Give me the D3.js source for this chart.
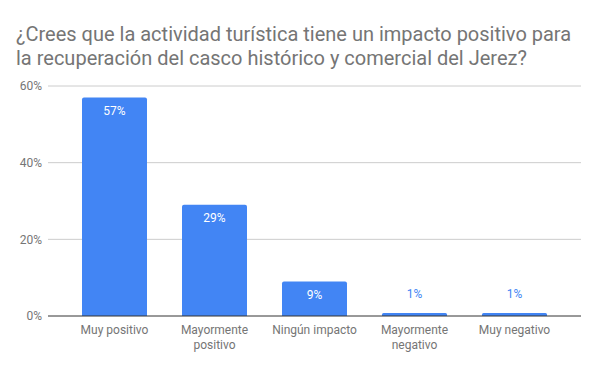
<!DOCTYPE html>
<html>
<head>
<meta charset="utf-8">
<script src="https://cdn.jsdelivr.net/npm/d3@7"></script>
<style>
  body { margin: 0; background: #fff; }
  svg { font-family: Roboto, sans-serif; }
</style>
</head>
<body>
<div id="graf"></div>
<script>
// datos
categorias = ['Muy positivo', 'Mayormente positivo', 'Ningún impacto', 'Mayormente negativo', 'Muy negativo']
valores = [57, 29, 9, 0.8, 0.8]
ticks = [0, 20, 40, 60]
titulo = ['¿Crees que la actividad turística tiene un impacto positivo para',
          'la recuperación del casco histórico y comercial del Jerez?']

ancho_total = 600
alto_total = 371
margins = { top: 86, left: 48, right: 19, bottom: 55 }
ancho = ancho_total - margins.left - margins.right
alto = alto_total - margins.top - margins.bottom

svg = d3.select('#graf').append('svg')
        .attr('width', ancho_total)
        .attr('height', alto_total)

svg.append('rect').attr('width', ancho_total).attr('height', alto_total).attr('fill', '#fff')

svg.selectAll('.titulo')
   .data(titulo)
   .enter().append('text')
     .attr('x', 16)
     .attr('y', (d, i) => 41 + i * 24)
     .attr('fill', '#757575')
     .style('font-size', '20px')
     .text(d => d)

g = svg.append('g')
       .attr('transform', `translate(${margins.left}, ${margins.top})`)

y = d3.scaleLinear().domain([0, 60]).range([alto, 0])
x = d3.scaleBand().domain(categorias).range([0, ancho])
      .paddingInner(0.35).paddingOuter(0.34)

// rejilla
g.selectAll('.grid')
 .data(ticks.filter(t => t > 0))
 .enter().append('line')
   .attr('x1', 0).attr('x2', ancho)
   .attr('y1', d => y(d)).attr('y2', d => y(d))
   .attr('stroke', '#cccccc')

// eje y
yAxis = g.append('g')
         .call(d3.axisLeft(y).tickValues(ticks).tickSize(0).tickPadding(6).tickFormat(d => d + '%'))
yAxis.select('.domain').remove()
yAxis.selectAll('text').attr('fill', '#757575').style('font-size', '12px').attr('font-family', 'Roboto, sans-serif')

// barras
r = 2
g.selectAll('.bar')
 .data(valores)
 .enter().append('path')
   .attr('fill', '#4285f4')
   .attr('d', (d, i) => {
     x0 = x(categorias[i]); w = x.bandwidth()
     y0 = y(d); h = alto - y0
     rr = Math.min(r, h / 2)
     return `M${x0},${alto}V${y0 + rr}Q${x0},${y0} ${x0 + rr},${y0}H${x0 + w - rr}Q${x0 + w},${y0} ${x0 + w},${y0 + rr}V${alto}Z`
   })

// etiquetas de valor
g.selectAll('.etq')
 .data(valores)
 .enter().append('text')
   .attr('x', (d, i) => x(categorias[i]) + x.bandwidth() / 2)
   .attr('y', d => (alto - y(d) > 20) ? y(d) + 17 : y(d) - 15)
   .attr('text-anchor', 'middle')
   .attr('fill', d => (alto - y(d) > 20) ? '#ffffff' : '#4285f4')
   .style('font-size', '12px')
   .text(d => Math.round(d) + '%')

// eje x
g.append('line')
 .attr('x1', 0).attr('x2', ancho)
 .attr('y1', alto).attr('y2', alto)
 .attr('stroke', '#333333')

g.selectAll('.cat')
 .data(categorias)
 .enter().append('text')
   .attr('text-anchor', 'middle')
   .attr('fill', '#757575')
   .style('font-size', '12px')
   .attr('transform', d => `translate(${x(d) + x.bandwidth() / 2}, ${alto + 18})`)
   .each(function(d) {
     partes = (d.length > 14) ? d.split(' ') : [d]
     d3.select(this).selectAll('tspan')
       .data(partes)
       .enter().append('tspan')
         .attr('x', 0)
         .attr('dy', (p, i) => i ? 15 : 0)
         .text(p => p)
   })
</script>
</body>
</html>
